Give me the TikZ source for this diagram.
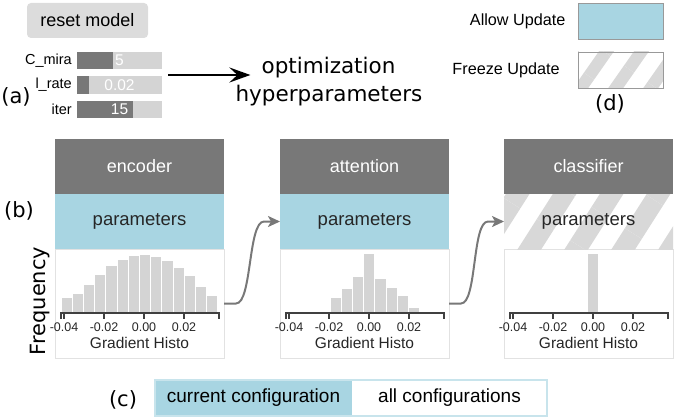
\documentclass[tikz,border=0pt]{standalone}
\usepackage{fontspec}
\setmainfont{Liberation Sans}
\newfontfamily\dejavu{DejaVu Sans}
\usepackage{tikz}
\usetikzlibrary{arrows.meta,positioning,calc,patterns.meta}
\definecolor{hdgray}{RGB}{120,120,120}
\definecolor{parblue}{RGB}{168,213,226}
\definecolor{bargray}{RGB}{212,212,212}
\definecolor{stripegray}{RGB}{216,216,216}
\definecolor{framegray}{RGB}{226,226,226}
\definecolor{btngray}{RGB}{220,220,220}
\definecolor{togglebdr}{RGB}{200,228,236}

\tikzset{
  hdbox/.style={fill=hdgray,text=white,minimum width=169pt,minimum height=55pt,inner sep=0pt,outer sep=0pt,font=\fontsize{18}{20}\selectfont},
  parbox/.style={minimum width=169pt,minimum height=55pt,inner sep=0pt,outer sep=0pt,text=black!85,font=\fontsize{18.5}{20}\selectfont},
  histbox/.style={draw=framegray,line width=1pt,minimum width=169pt,minimum height=109pt,inner sep=0pt,outer sep=0pt},
  axisline/.style={draw=black!75,line width=1.2pt},
  ticklbl/.style={text=black!85,font=\fontsize{12.5}{14}\selectfont},
  histlbl/.style={text=black!85,font=\fontsize{15.5}{17}\selectfont},
  link/.style={draw=hdgray,line width=2pt,-{Stealth[length=12pt,width=11pt,inset=3pt]}},
  bigarrow/.style={draw=black,line width=2.5pt,-{Stealth[length=21pt,width=15pt,inset=8pt]}},
  panellbl/.style={font=\dejavu\fontsize{21}{24}\selectfont},
  opttext/.style={inner sep=0pt,font=\dejavu\fontsize{21.5}{26}\selectfont},
  sliderbg/.style={fill=bargray,minimum width=85pt,minimum height=17.5pt,inner sep=0pt,outer sep=0pt},
  slidertxt/.style={text=white,font=\fontsize{15.5}{17}\selectfont},
  sliderlbl/.style={inner sep=0pt,font=\fontsize{14.5}{16}\selectfont},
  resetbtn/.style={fill=btngray,rounded corners=4pt,minimum width=121pt,minimum height=35pt,font=\fontsize{18}{20}\selectfont},
  lgdbox/.style={draw=black!40,line width=0.8pt,minimum width=85pt,minimum height=36pt,inner sep=0pt},
  lgdtext/.style={inner sep=0pt,font=\fontsize{16.2}{18}\selectfont},
  togglebox/.style={minimum height=36pt,inner sep=0pt,outer sep=0pt,font=\fontsize{19}{21}\selectfont}
}

\begin{document}
\begin{tikzpicture}[x=1pt,y=-1pt]
\useasboundingbox (0,0) rectangle (676,417);

% (a)
\node[resetbtn] (reset) at (87.5,20.5) {reset model};
\foreach \lbl/\val/\dark/\y [count=\i] in {C\_mira/5/36/60.5, l\_rate/0.02/12/85, iter/15/56/109.5} {
  \node[sliderbg] (slider\i) at (119.5,\y) {};
  \fill[hdgray] (slider\i.north west) rectangle ([xshift=\dark pt]slider\i.south west);
  \node[slidertxt] at (slider\i) {\val};
  \node[sliderlbl,left=5pt of slider\i] {\lbl};
}
\node[panellbl] (lbla) at (16,97) {(a)};
\node[opttext,anchor=base] (optA) at (328.5,74) {optimization};
\node[opttext,anchor=base] (optB) at (329,102) {hyperparameters};
\coordinate (armstart) at (168,75);
\draw[bigarrow,shorten >=11pt] (armstart) -- (armstart -| optA.west);

% (d)
\node[lgdbox,fill=parblue] (allow) at (620.5,21) {};
\node[lgdbox,pattern={Lines[angle=55,distance=28.7pt,line width=12.3pt]},pattern color=stripegray] (freeze) at (620.5,70) {};
\node[lgdtext,left=12pt of allow] {Allow Update};
\node[lgdtext,left=12pt of freeze] {Freeze Update};
\node[panellbl] (lbld) at (610,104) {(d)};

% (b)
\foreach \p/\t/\x in {enc/encoder/55, att/attention/280, cls/classifier/504} {
  \node[hdbox,anchor=north west] (\p) at (\x,139) {\t};
  \node[histbox,below=55pt of \p] (\p hist) {};
  \begin{scope}[shift={(\p hist.north west)}]
    \draw[axisline] (6,70) -- (6,64) -- (164,64) -- (164,70);
    \foreach \tx/\tl in {9/-0.04,49/-0.02,89/0.00,129/0.02} {
      \draw[axisline] (\tx,64) -- (\tx,70);
      \node[ticklbl] at (\tx,78) {\tl};
    }
    \node[histlbl] at (84.5,94) {Gradient Histo};
  \end{scope}
}
\node[parbox,fill=parblue,below=0pt of enc] (encpar) {parameters};
\node[parbox,fill=parblue,below=0pt of att] (attpar) {parameters};
\node[parbox,pattern={Lines[angle=57.5,distance=39.6pt,line width=20pt]},pattern color=stripegray,below=0pt of cls] (clspar) {parameters};

\begin{scope}[shift={(enchist.north west)}]
  \foreach \h [count=\i from 0] in {14,18,27,37,46,52,56,57,55,51,44,36,25,16}
    \fill[bargray] (6.5+\i*11.2,63.4) rectangle ++(10.2,-\h);
\end{scope}
\begin{scope}[shift={(atthist.north west)}]
  \foreach \h [count=\i from 0] in {14,23,35,58,33,24,16,4}
    \fill[bargray] (50.5+\i*11.2,63.4) rectangle ++(10.2,-\h);
\end{scope}
\begin{scope}[shift={(clshist.north west)}]
  \fill[bargray] (84.3,63.4) rectangle ++(9.4,-58);
\end{scope}

\draw[link] (enchist.east) -- ++(12,0) .. controls +(16,0) and +(-16,0) .. ($(attpar.west)+(-16,0)$) -- (attpar.west);
\draw[link] (atthist.east) -- ++(12,0) .. controls +(16,0) and +(-16,0) .. ($(clspar.west)+(-16,0)$) -- (clspar.west);

\node[panellbl] (lblb) at (19,211) {(b)};
\node[panellbl,rotate=90] (freq) at (40,301) {Frequency};

% (c)
\node[togglebox,fill=parblue,minimum width=197pt] (cur) at (253.5,398) {current configuration};
\node[togglebox,minimum width=195pt,right=0pt of cur] (all) {all configurations};
\draw[togglebdr,line width=1.5pt] (cur.north west) rectangle (all.south east);
\node[panellbl] (lblc) at (123,400) {(c)};
\end{tikzpicture}
\end{document}
